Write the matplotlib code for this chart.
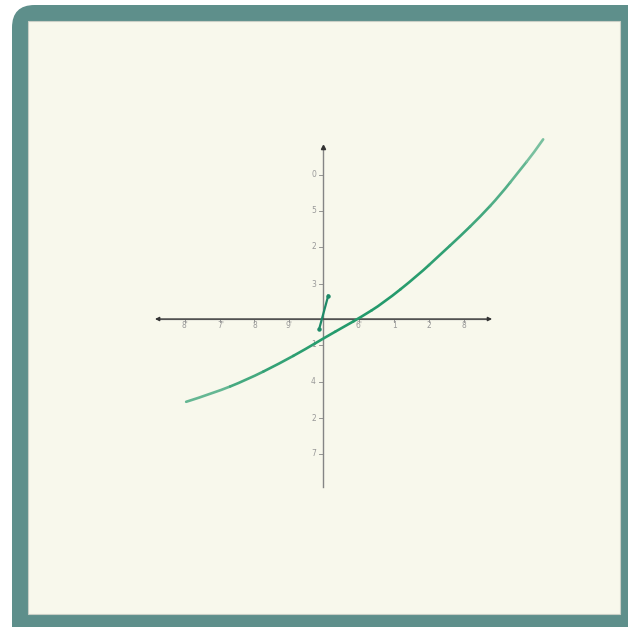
import numpy as np
import matplotlib
matplotlib.use("Agg")
import matplotlib.pyplot as plt
from matplotlib.patches import FancyBboxPatch, Rectangle, PathPatch
from matplotlib.path import Path
from matplotlib.colors import to_rgb

# curve points (data units: 1 = one tick step)
curve_x = [-3.91, -3.13, -2.18, -1.23, -0.47, 0.01, 0.68, 1.06, 1.72,
           2.72, 3.34, 3.91, 4.49, 5.06, 5.63, 6.01, 6.29]
curve_y = [-2.30, -2.06, -1.69, -1.23, -0.82, -0.54, -0.17, 0.04, 0.44,
           1.22, 1.78, 2.29, 2.84, 3.44, 4.14, 4.60, 4.99]

# short stray segment near the origin
seg_x = [-0.11, 0.15]
seg_y = [-0.28, 0.65]

# tick labels (as they appear, garbled)
xtick_pos = [-3.94, -2.93, -1.96, -0.96, 1.04, 2.04, 3.02, 4.03]
xtick_lab = ["8'", "7'", "8", "9'", "6'", "1", "2", "8"]
ytick_pos = [4.0, 3.0, 2.0, 0.97, -0.72, -1.75, -2.76, -3.75]
ytick_lab = ["0", "5", "2", "3", "1", "4", "2", "7"]

W, H = 628, 627
bg = "#f8f8ec"
fig = plt.figure(figsize=(W / 100, H / 100), dpi=100)
fig.patch.set_facecolor("white")

# teal frame with cream panel
outer = FancyBboxPatch((12 / W, -0.05), 1.2, 1 - 5 / H + 0.05,
                       boxstyle="round,pad=0,rounding_size=0.036",
                       transform=fig.transFigure, facecolor="#5e8f8b",
                       edgecolor="none", zorder=-2)
inner = Rectangle((28 / W, 1 - 614 / H), (620 - 28) / W, (614 - 21) / H,
                  transform=fig.transFigure, facecolor=bg,
                  edgecolor="#c9cfc6", linewidth=0.8, zorder=-1)
fig.patches.extend([outer, inner])

ax = fig.add_axes([0, 0, 1, 1])
ax.set_zorder(2)
ax.set_facecolor("none")
ax.set_xlim(-323 / 35, (W - 323) / 35)
ax.set_ylim((319 - H) / 36, 319 / 36)
ax.axis("off")

axis_col = "#858585"
# x axis with arrows on both ends
ax.annotate("", xy=(4.83, 0), xytext=(-4.8, 0),
            arrowprops=dict(arrowstyle="<|-|>", color="#333333", lw=0.9,
                            mutation_scale=6, shrinkA=0, shrinkB=0))
ax.plot([-4.7, 4.73], [0, 0], color=axis_col, lw=0.9, zorder=2)
# y axis, arrow on top
ax.plot([0, 0], [-4.67, 4.7], color=axis_col, lw=1.0, zorder=2)
ax.plot([0], [4.78], marker="^", ms=3, color="#333333", zorder=3)

for xp, lab in zip(xtick_pos, xtick_lab):
    ax.plot([xp, xp], [0, -0.07], color=axis_col, lw=0.6)
    ax.text(xp, -0.17, lab, ha="center", va="center", fontsize=5.5, color="#999999")
for yp, lab in zip(ytick_pos, ytick_lab):
    ax.plot([-0.11, 0], [yp, yp], color=axis_col, lw=0.6)
    ax.text(-0.2, yp, lab, ha="right", va="center", fontsize=5.5, color="#999999")

# curve: quadratic bezier pieces through the read points (points as control
# points, midpoints as anchors), colour fading towards both ends
pts = np.column_stack([curve_x, curve_y])
mids = (pts[:-1] + pts[1:]) / 2
anchors = np.vstack([pts[0], mids[1:-1], pts[-1]])
green = np.array(to_rgb("#239a6b"))
paper = np.array(to_rgb(bg))
x0, x1 = min(curve_x), max(curve_x)
for i in range(len(anchors) - 1):
    a, c, b = anchors[i], pts[i + 1], anchors[i + 1]
    t = ((a[0] + b[0]) / 2 - x0) / (x1 - x0)
    s = 0.45 + 0.55 * np.sin(np.pi * t) ** 0.5
    col = tuple(s * green + (1 - s) * paper)
    path = Path([a, c, b], [Path.MOVETO, Path.CURVE3, Path.CURVE3])
    ax.add_patch(PathPatch(path, facecolor="none", edgecolor=col, lw=1.9,
                           capstyle="round", zorder=4))

ax.plot(seg_x, seg_y, color="#1e8a68", lw=1.6, marker="o", ms=2.2, zorder=5)

fig.savefig("out.png", dpi=100, facecolor="white")
